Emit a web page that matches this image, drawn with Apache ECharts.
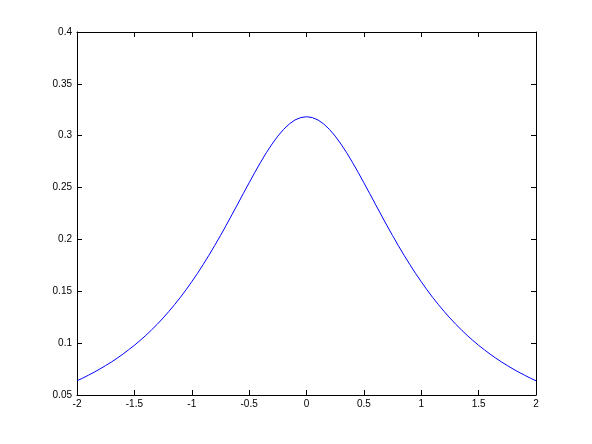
<!DOCTYPE html>
<html><head><meta charset="utf-8">
<script src="https://cdn.jsdelivr.net/npm/echarts@6/dist/echarts.min.js"></script>
<style>html,body{margin:0;padding:0;background:#fff}#c{width:592px;height:444px}</style>
</head><body><div id="c"></div>
<script>
const xValues = [-2.0,-1.95,-1.9,-1.85,-1.8,-1.75,-1.7,-1.65,-1.6,-1.55,-1.5,-1.45,-1.4,-1.35,-1.3,-1.25,-1.2,-1.15,-1.1,-1.05,-1.0,-0.95,-0.9,-0.85,-0.8,-0.75,-0.7,-0.65,-0.6,-0.55,-0.5,-0.45,-0.4,-0.35,-0.3,-0.25,-0.2,-0.15,-0.1,-0.05,0.0,0.05,0.1,0.15,0.2,0.25,0.3,0.35,0.4,0.45,0.5,0.55,0.6,0.65,0.7,0.75,0.8,0.85,0.9,0.95,1.0,1.05,1.1,1.15,1.2,1.25,1.3,1.35,1.4,1.45,1.5,1.55,1.6,1.65,1.7,1.75,1.8,1.85,1.9,1.95,2.0];
const yValues = [0.0637,0.0663,0.0691,0.0720,0.0751,0.0784,0.0818,0.0855,0.0894,0.0936,0.0979,0.1026,0.1075,0.1128,0.1183,0.1242,0.1305,0.1371,0.1440,0.1514,0.1592,0.1673,0.1759,0.1848,0.1941,0.2037,0.2136,0.2238,0.2340,0.2444,0.2546,0.2647,0.2744,0.2836,0.2920,0.2996,0.3061,0.3113,0.3152,0.3175,0.3183,0.3175,0.3152,0.3113,0.3061,0.2996,0.2920,0.2836,0.2744,0.2647,0.2546,0.2444,0.2340,0.2238,0.2136,0.2037,0.1941,0.1848,0.1759,0.1673,0.1592,0.1514,0.1440,0.1371,0.1305,0.1242,0.1183,0.1128,0.1075,0.1026,0.0979,0.0936,0.0894,0.0855,0.0818,0.0784,0.0751,0.0720,0.0691,0.0663,0.0637];
const xTicks = [-2,-1.5,-1,-0.5,0,0.5,1,1.5,2];
const yTicks = [0.05,0.1,0.15,0.2,0.25,0.3,0.35,0.4];

const chart = echarts.init(document.getElementById('c'), null, {renderer:'canvas'});
const font = {fontFamily:'Liberation Sans, Arial, sans-serif', fontSize:10, color:'#000'};
const axisBase = {
  axisLine:{show:true, onZero:false, lineStyle:{color:'#000', width:1}},
  axisTick:{show:true, inside:true, length:5, lineStyle:{color:'#000'}},
  splitLine:{show:false}
};
chart.setOption({
  animation:false,
  grid:{left:77, right:56, top:32, bottom:49, show:false},
  xAxis:[
    Object.assign({type:'value', position:'bottom', min:-2, max:2, interval:0.5,
      axisLabel:Object.assign({margin:4, formatter:v=>String(v)}, font)}, axisBase),
    Object.assign({type:'value', position:'top', min:-2, max:2, interval:0.5,
      axisLabel:{show:false}}, axisBase)
  ],
  yAxis:[
    Object.assign({type:'value', position:'left', min:0.05, max:0.4, interval:0.05,
      axisLabel:Object.assign({margin:5, formatter:v=>String(+v.toFixed(2))}, font)}, axisBase),
    Object.assign({type:'value', position:'right', min:0.05, max:0.4, interval:0.05,
      axisLabel:{show:false}}, axisBase)
  ],
  series:[{
    type:'line', showSymbol:false, symbol:'none',
    data:xValues.map((x,i)=>[x,yValues[i]]),
    lineStyle:{color:'#0000ff', width:1}
  }]
});
</script></body></html>
